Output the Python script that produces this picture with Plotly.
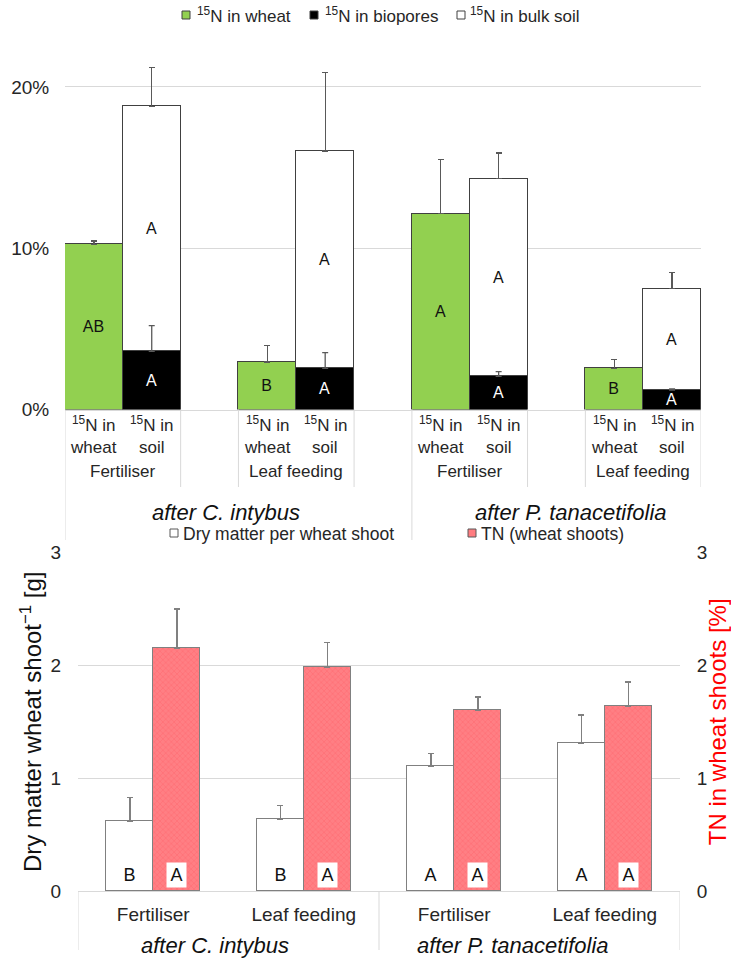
import plotly.graph_objects as go

# ---------------- data ----------------
# upper panel: 15N recovery (% of applied)
top_groups = ["Fertiliser", "Leaf feeding", "Fertiliser", "Leaf feeding"]
bar_labels = [("in", "wheat"), ("in", "soil")]
wheat_15n = [10.25, 2.95, 12.15, 2.55]
wheat_15n_err = [0.2, 1.0, 3.35, 0.55]
biopore_15n = [3.6, 2.55, 2.05, 1.2]
biopore_15n_err = [1.6, 0.97, 0.3, 0.07]
bulk_15n = [15.2, 13.48, 12.25, 6.3]
soil_total_err = [2.4, 4.88, 1.6, 1.0]
wheat_letters = ["AB", "B", "A", "B"]
biopore_letters = ["A", "A", "A", "A"]
bulk_letters = ["A", "A", "A", "A"]
pct_ticks = [0, 10, 20]

# lower panel: dry matter and total N of wheat shoots
bottom_groups = ["Fertiliser", "Leaf feeding", "Fertiliser", "Leaf feeding"]
dry_matter = [0.62, 0.64, 1.11, 1.31]
dry_matter_err = [0.21, 0.12, 0.11, 0.25]
tn_shoots = [2.15, 1.98, 1.60, 1.64]
tn_shoots_err = [0.35, 0.22, 0.12, 0.21]
dm_letters = ["B", "B", "A", "A"]
tn_letters = ["A", "A", "A", "A"]
unit_ticks = [0, 1, 2, 3]

preceding_crops = ["after C. intybus", "after P. tanacetifolia"]

# ---------------- layout helpers ----------------
W, H = 731, 962
FONT = "Arial, Liberation Sans, sans-serif"
TXT = "#262626"
GRID = "#d9d9d9"


def px(x):
    return x / W


def py(y):
    return 1 - y / H


# upper plot area (pixels)
T_LEFT, T_RIGHT, T_ZERO, T_TOP = 65, 701, 409.5, 40
T_PX_PER_PCT = 16.13
# lower plot area (pixels)
B_LEFT, B_RIGHT, B_ZERO, B_TOP = 78, 680, 891.3, 552.3

n_groups = len(top_groups)
x_wheat = [g * 3 for g in range(n_groups)]
x_soil = [g * 3 + 1 for g in range(n_groups)]

fig = go.Figure()

err_top = dict(type="data", symmetric=False, color="#595959", thickness=1.3, width=3)

fig.add_trace(go.Bar(
    x=x_wheat, y=wheat_15n, width=1, name="<sup>15</sup>N in wheat",
    marker=dict(color="#92d050", line=dict(color="#404040", width=1)),
    error_y=dict(array=wheat_15n_err, arrayminus=[0] * n_groups, **err_top),
    text=wheat_letters, textposition="inside", insidetextanchor="middle",
    textangle=0, constraintext="none",
    textfont=dict(family=FONT, size=16, color="#111"),
    xaxis="x", yaxis="y", showlegend=False,
))
fig.add_trace(go.Bar(
    x=x_soil, y=biopore_15n, width=1, name="<sup>15</sup>N in biopores",
    marker=dict(color="#000000", line=dict(color="#404040", width=1)),
    text=biopore_letters, textposition="inside", insidetextanchor="middle",
    textangle=0, constraintext="none",
    textfont=dict(family=FONT, size=16, color="#ffffff"),
    xaxis="x", yaxis="y", showlegend=False,
))
fig.add_trace(go.Bar(
    x=x_soil, y=bulk_15n, width=1, name="<sup>15</sup>N in bulk soil",
    marker=dict(color="#ffffff", line=dict(color="#404040", width=1)),
    error_y=dict(array=soil_total_err, arrayminus=[0] * n_groups, **err_top),
    text=bulk_letters, textposition="inside", insidetextanchor="middle",
    textangle=0, constraintext="none",
    textfont=dict(family=FONT, size=16, color="#111"),
    xaxis="x", yaxis="y", showlegend=False,
))
# biopore error bars sit on top of the stacked bulk-soil bar
fig.add_trace(go.Scatter(
    x=x_soil, y=biopore_15n, mode="markers", marker=dict(size=1, opacity=0),
    error_y=dict(array=biopore_15n_err, arrayminus=[0] * n_groups, **err_top),
    xaxis="x", yaxis="y", showlegend=False, hoverinfo="skip",
))

# lower panel bars
bw = 47 / ((B_RIGHT - B_LEFT) / len(bottom_groups))
xb = list(range(len(bottom_groups)))
err_bot = dict(type="data", symmetric=False, color="#808080", thickness=1.5, width=3)

fig.add_trace(go.Bar(
    x=xb, y=dry_matter, width=bw, offset=-bw, name="Dry matter per wheat shoot",
    marker=dict(color="#ffffff", line=dict(color="#808080", width=1)),
    error_y=dict(array=dry_matter_err, arrayminus=[0] * len(xb), **err_bot),
    xaxis="x2", yaxis="y2", showlegend=False,
))
fig.add_trace(go.Bar(
    x=xb, y=tn_shoots, width=bw, offset=0, name="TN (wheat shoots)",
    marker=dict(color="#ff7c80", line=dict(color="#808080", width=1),
                pattern=dict(shape="x", size=4, solidity=0.25, fillmode="replace",
                             bgcolor="#ff7f84", fgcolor="#ff6b71")),
    error_y=dict(array=tn_shoots_err, arrayminus=[0] * len(xb), **err_bot),
    xaxis="x2", yaxis="y3", showlegend=False,
))

annotations = []
shapes = []


def label(x, y, text, size, xref="paper", yref="paper", color=TXT, **kw):
    d = dict(x=x, y=y, xref=xref, yref=yref, text=text, showarrow=False,
             xanchor="center", yanchor="middle",
             font=dict(family=FONT, size=size, color=color))
    d.update(kw)
    annotations.append(d)


# letters at the base of lower-panel bars
for i in xb:
    label(i - bw / 2, 0, dm_letters[i], 18, xref="x2", yref="y2", color="#111",
          yanchor="bottom", yshift=3, width=19, height=24, borderpad=0)
    label(i + bw / 2, 0, tn_letters[i], 18, xref="x2", yref="y3", color="#111",
          yanchor="bottom", yshift=3, width=19, height=24, borderpad=0,
          bgcolor="#ffffff")

# upper panel category axis: bar labels, treatment labels, preceding crop
for g in range(n_groups):
    for k, xpos in enumerate((x_wheat[g], x_soil[g])):
        label(xpos, py(424), "<sup>15</sup>N " + bar_labels[k][0], 17, xref="x")
        label(xpos, py(447), bar_labels[k][1], 17, xref="x")
    label(g * 3 + 0.5, py(471), top_groups[g], 17, xref="x")

for xp, crop in zip((225.5, 571), preceding_crops):
    label(px(xp), py(512), "<i>" + crop + "</i>", 22, color="#111")
for xp, crop in zip((214.5, 513), preceding_crops):
    label(px(xp), py(945), "<i>" + crop + "</i>", 22, color="#111")

# separator lines under the category axes
for xs in (-0.5, 1.5, 2.5, 4.5, 5.5, 7.5, 8.5, 10.5):
    shapes.append(dict(type="line", xref="x", yref="paper", x0=xs, x1=xs,
                       y0=py(T_ZERO), y1=py(487), line=dict(color=GRID, width=1)))
for xs in (-0.5, 5.5):
    shapes.append(dict(type="line", xref="x", yref="paper", x0=xs, x1=xs,
                       y0=py(487), y1=py(540), line=dict(color=GRID, width=1)))
for xs in (-0.5, 1.5, 3.5):
    shapes.append(dict(type="line", xref="x2", yref="paper", x0=xs, x1=xs,
                       y0=py(B_ZERO), y1=py(950), line=dict(color=GRID, width=1)))

# legends drawn as swatch + label rows
top_legend = [("#92d050", 186, 195, "<sup>15</sup>N in wheat"),
              ("#000000", 314, 323, "<sup>15</sup>N in biopores"),
              ("#ffffff", 461, 468, "<sup>15</sup>N in bulk soil")]
for col, sx, tx, text in top_legend:
    shapes.append(dict(type="rect", xref="paper", yref="paper",
                       x0=px(sx - 4), x1=px(sx + 4), y0=py(19), y1=py(11),
                       fillcolor=col, line=dict(color="#404040", width=1)))
    label(px(tx), py(15), text, 17, xanchor="left")

bottom_legend = [("#ffffff", 174, 181, "Dry matter per wheat shoot"),
                 ("#ff7c80", 472, 479, "TN (wheat shoots)")]
for col, sx, tx, text in bottom_legend:
    shapes.append(dict(type="rect", xref="paper", yref="paper",
                       x0=px(sx - 4), x1=px(sx + 4), y0=py(537), y1=py(529),
                       fillcolor=col, line=dict(color="#595959", width=1)))
    label(px(tx), py(534), text, 17.5, xanchor="left")

fig.update_layout(
    template="none",
    width=W, height=H, margin=dict(l=0, r=0, t=0, b=0, pad=0),
    paper_bgcolor="#ffffff", plot_bgcolor="#ffffff",
    barmode="stack", bargap=0, showlegend=False,
    font=dict(family=FONT, color=TXT),
    xaxis=dict(domain=[px(T_LEFT), px(T_RIGHT)], range=[-0.5, 10.5],
               showticklabels=False, showgrid=False, zeroline=False, ticks="",
               showline=True, linecolor=GRID, linewidth=1, anchor="y",
               automargin=False, fixedrange=True),
    yaxis=dict(domain=[py(T_ZERO), py(T_TOP)],
               range=[0, (T_ZERO - T_TOP) / T_PX_PER_PCT],
               tickmode="array", tickvals=pct_ticks,
               ticktext=[f"{v}%" for v in pct_ticks],
               tickfont=dict(family=FONT, size=19, color=TXT),
               ticks="outside", ticklen=11, tickcolor="rgba(0,0,0,0)",
               showgrid=True, gridcolor=GRID, gridwidth=1, zeroline=False,
               showline=False, anchor="x", automargin=False, fixedrange=True),
    xaxis2=dict(domain=[px(B_LEFT), px(B_RIGHT)], range=[-0.5, 3.5],
                tickmode="array", tickvals=xb, ticktext=bottom_groups,
                tickfont=dict(family=FONT, size=19, color=TXT),
                ticks="outside", ticklen=6, tickcolor="rgba(0,0,0,0)",
                showgrid=False, zeroline=False, showline=True, linecolor=GRID,
                anchor="y2", automargin=False, fixedrange=True),
    yaxis2=dict(domain=[py(B_ZERO), py(B_TOP)], range=[0, 3],
                tickmode="array", tickvals=unit_ticks,
                tickfont=dict(family=FONT, size=19, color=TXT),
                ticks="outside", ticklen=12, tickcolor="rgba(0,0,0,0)",
                showgrid=True, gridcolor=GRID, gridwidth=1, zeroline=False,
                showline=False,
                title=dict(text="Dry matter wheat shoot<sup>−1</sup> [g]", standoff=2,
                           font=dict(family=FONT, size=24, color="#111")),
                anchor="x2", automargin=False, fixedrange=True),
    yaxis3=dict(domain=[py(B_ZERO), py(B_TOP)], range=[0, 3],
                tickmode="array", tickvals=unit_ticks,
                overlaying="y2", side="right",
                tickfont=dict(family=FONT, size=19, color=TXT),
                ticks="outside", ticklen=12, tickcolor="rgba(0,0,0,0)",
                showgrid=False, zeroline=False, showline=False,
                title=dict(text="TN in wheat shoots [%]", standoff=4,
                           font=dict(family=FONT, size=24, color="#ff0000")),
                anchor="x2", automargin=False, fixedrange=True),
    annotations=annotations, shapes=shapes,
)

fig.write_html("out.html")
